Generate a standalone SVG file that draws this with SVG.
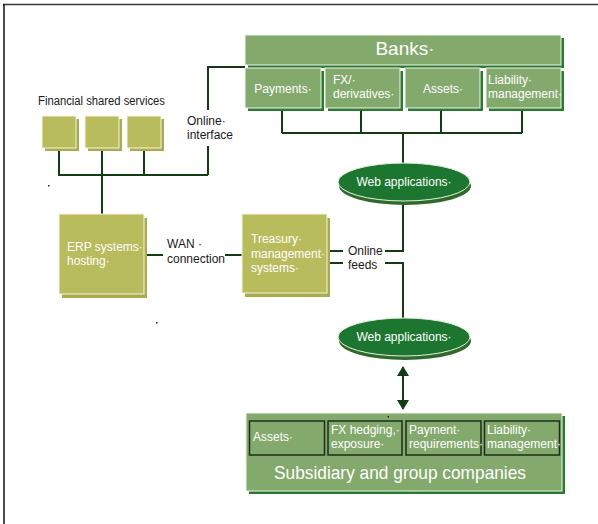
<svg xmlns="http://www.w3.org/2000/svg" width="598" height="524" viewBox="0 0 598 524">
<defs>
<style>
.olive{fill:#b8bc5c;stroke:#f4f4e0;stroke-width:1}
.oliveS{fill:#a8ac4e}
.green{fill:#84a96d;stroke:#eef4e8;stroke-width:1}
.greenS{fill:#2a7a30}
.inner{fill:#84a96d;stroke:#1c2e1a;stroke-width:1.5}
.ell{fill:#1d7630;stroke:#e8f0e4;stroke-width:1}
.ellS{fill:#2f6a2a}
.wt{font-family:"Liberation Sans",Arial,sans-serif;font-size:12px;fill:#ffffff}
.bt{font-family:"Liberation Sans",Arial,sans-serif;font-size:12px;fill:#1a1a1a}
.big{font-family:"Liberation Sans",Arial,sans-serif;font-size:19px;fill:#ffffff;text-anchor:middle}
.wire{fill:none;stroke:#143c14;stroke-width:2}
</style>
<marker id="ah" viewBox="0 0 10 12" refX="9" refY="6" markerWidth="10" markerHeight="12" markerUnits="userSpaceOnUse" orient="auto-start-reverse">
<path d="M0,0 L10,6 L0,12 Z" fill="#143c14"/>
</marker>
</defs>
<rect width="598" height="524" fill="#ffffff"/>
<g id="frame">
<line x1="3" y1="4.5" x2="598" y2="4.5" stroke="#3a3a3a" stroke-width="1.5"/>
<line x1="4" y1="4" x2="4" y2="524" stroke="#111111" stroke-width="1.5"/>
</g>
<g id="connectors">
<path class="wire" d="M245,67 H208 V110"/>
<path class="wire" d="M208,146 V175 M59,148 V175 H208 M102,148 V175 M144,148 V175 M102,175 V214"/>
<path class="wire" d="M282,108 V133 M361,108 V133 M441,108 V133 M522,108 V133 M282,133 H522 M403,133 V163"/>
<path class="wire" d="M403,202 V251 H385 M328,251 H343 M328,263 H343 M385,263 H403 V318"/>
<path class="wire" d="M144,255 H163 M225,255 H242"/>
<line class="wire" x1="403" y1="367" x2="403" y2="409" marker-start="url(#ah)" marker-end="url(#ah)"/>
</g>
<g id="banks">
<rect class="greenS" x="248" y="38" width="316" height="30"/>
<rect class="green" x="245" y="35" width="316" height="30"/>
<text class="big" x="405" y="55">Banks·</text>
</g>
<g id="payments">
<rect class="greenS" x="248" y="71" width="76" height="40"/>
<rect class="green" x="245" y="68" width="76" height="40"/>
<text class="wt" x="283" y="93" text-anchor="middle">Payments·</text>
</g>
<g id="fx-derivatives">
<rect class="greenS" x="328" y="71" width="75" height="40"/>
<rect class="green" x="325" y="68" width="75" height="40"/>
<text class="wt" x="333" y="84">FX/·</text>
<text class="wt" x="333" y="98">derivatives·</text>
</g>
<g id="assets">
<rect class="greenS" x="408" y="71" width="75" height="40"/>
<rect class="green" x="405" y="68" width="75" height="40"/>
<text class="wt" x="443" y="93" text-anchor="middle">Assets·</text>
</g>
<g id="liability">
<rect class="greenS" x="489" y="71" width="75" height="40"/>
<rect class="green" x="486" y="68" width="75" height="40"/>
<text class="wt" x="488" y="84">Liability·</text>
<text class="wt" x="488" y="98">management·</text>
</g>
<g id="web-apps-top">
<ellipse class="ellS" cx="405" cy="186" rx="66" ry="19"/>
<ellipse class="ell" cx="404" cy="182" rx="66" ry="19"/>
<text class="wt" x="404" y="186" text-anchor="middle">Web applications·</text>
</g>
<g id="fss-label">
<text class="bt" x="38" y="105" font-size="12.5" textLength="127" lengthAdjust="spacingAndGlyphs">Financial shared services</text>
</g>
<g id="fss1">
<rect class="oliveS" x="45" y="119" width="34" height="32"/>
<rect class="olive" x="42" y="116" width="34" height="32"/>
</g>
<g id="fss2">
<rect class="oliveS" x="88" y="119" width="34" height="32"/>
<rect class="olive" x="85" y="116" width="34" height="32"/>
</g>
<g id="fss3">
<rect class="oliveS" x="130" y="119" width="34" height="32"/>
<rect class="olive" x="127" y="116" width="34" height="32"/>
</g>
<g id="online-interface">
<text class="bt" x="187" y="125">Online·</text>
<text class="bt" x="187" y="139">interface</text>
</g>
<g id="erp">
<rect class="oliveS" x="62" y="218" width="85" height="80"/>
<rect class="olive" x="59" y="214" width="85" height="80"/>
<text class="wt" x="67" y="251">ERP systems·</text>
<text class="wt" x="67" y="265">hosting·</text>
</g>
<g id="wan">
<text class="bt" x="167" y="248">WAN ·</text>
<text class="bt" x="167" y="263">connection</text>
</g>
<g id="treasury">
<rect class="oliveS" x="245" y="218" width="85" height="79"/>
<rect class="olive" x="242" y="214" width="85" height="79"/>
<text class="wt" x="251" y="243">Treasury·</text>
<text class="wt" x="251" y="258">management·</text>
<text class="wt" x="251" y="272">systems·</text>
</g>
<g id="online-feeds">
<text class="bt" x="348" y="255">Online</text>
<text class="bt" x="348" y="269">feeds</text>
</g>
<g id="web-apps-bottom">
<ellipse class="ellS" cx="405" cy="341" rx="66" ry="19"/>
<ellipse class="ell" cx="404" cy="337" rx="66" ry="19"/>
<text class="wt" x="404" y="341" text-anchor="middle">Web applications·</text>
</g>
<g id="subsidiary">
<rect class="greenS" x="249" y="416" width="316" height="78"/>
<rect class="green" x="246" y="413" width="316" height="78"/>
<rect class="inner" x="249.5" y="421" width="75" height="34"/>
<rect class="inner" x="328" y="421" width="74" height="34"/>
<rect class="inner" x="406" y="421" width="75" height="34"/>
<rect class="inner" x="484.5" y="421" width="75" height="34"/>
<text class="wt" x="253" y="441">Assets·</text>
<text class="wt" x="331" y="434">FX hedging,·</text>
<text class="wt" x="331" y="448">exposure·</text>
<text class="wt" x="409" y="434">Payment·</text>
<text class="wt" x="409" y="448">requirements·</text>
<text class="wt" x="487" y="434">Liability·</text>
<text class="wt" x="487" y="448">management·</text>
<text class="big" x="400" y="479" textLength="252" lengthAdjust="spacingAndGlyphs">Subsidiary and group companies</text>
</g>
<g id="dots" fill="#222222">
<rect x="48" y="185" width="1.5" height="1.5"/>
<rect x="156" y="322" width="1.5" height="1.5"/>
<rect x="387.5" y="416" width="1.5" height="1.5"/>
</g>
</svg>
